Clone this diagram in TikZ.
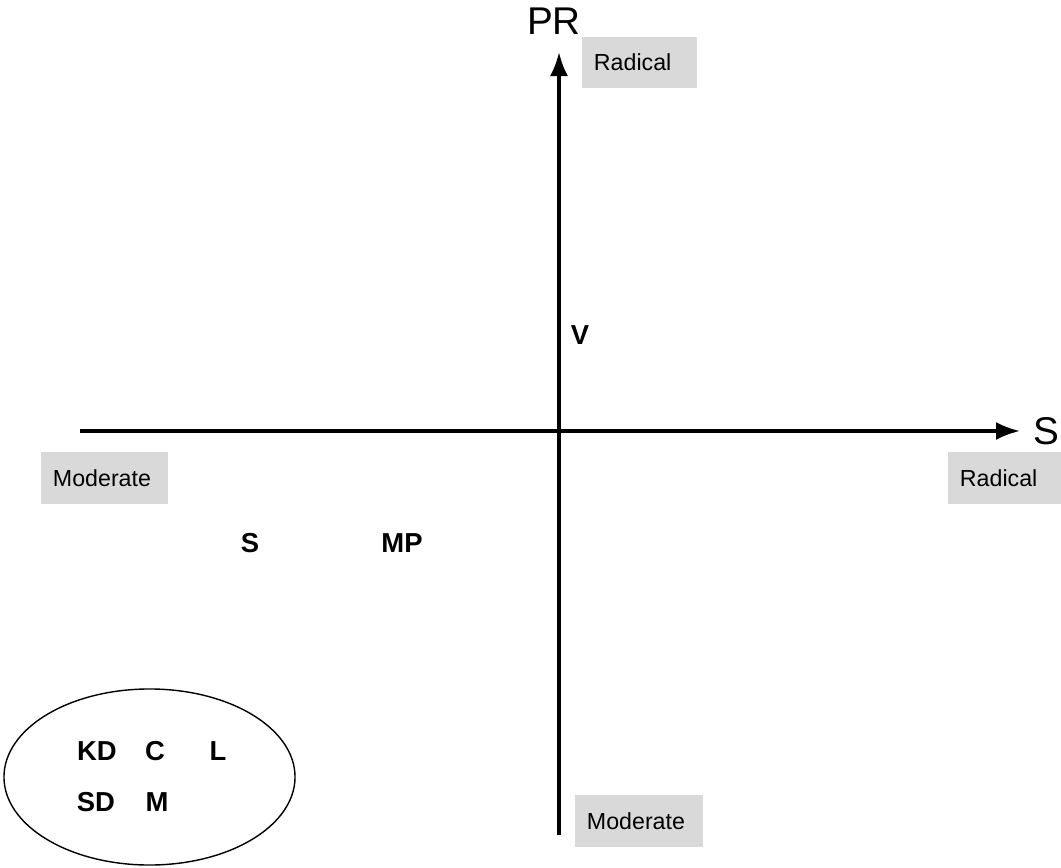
\documentclass[tikz,border=0pt]{standalone}
\usepackage{fontspec}
\setmainfont{Liberation Sans}
\usetikzlibrary{arrows.meta,shapes.geometric}
\definecolor{boxgray}{HTML}{D9D9D9}

\begin{document}
\begin{tikzpicture}
  [x=0.025cm,y=-0.025cm,
   gbox/.style={fill=boxgray,minimum height=1.275cm,inner ysep=0pt,
     inner xsep=0.3cm,align=left,font=\fontsize{16.5}{18}\selectfont},
   party/.style={inner sep=0pt,font=\fontsize{19.5}{22}\selectfont\bfseries},
   axname/.style={inner sep=0pt,font=\fontsize{27.5}{30}\selectfont},
   axis/.style={line width=2.4pt,-{Latex[length=0.6cm,width=0.45cm]}}]
  \useasboundingbox (0,0) rectangle (1061,868);

  % axes
  \coordinate (xl) at (80,431);
  \coordinate (xr) at (1020,431);
  \coordinate (yb) at (559,835);
  \coordinate (yt) at (559,52);
  \draw[axis] (xl) -- (xr);
  \draw[axis] (yb) -- (yt);

  \node[axname] (pr) at (554,21) {PR};
  \node[axname] (sx) at (1046,431) {S};

  % end labels
  \node[gbox,text width=2.275cm] (radtop) at (639.5,62.5) {Radical};
  \node[gbox,text width=2.575cm] (modleft) at (104.5,478) {Moderate};
  \node[gbox,text width=2.225cm] (radright) at (1004.5,478) {Radical};
  \node[gbox,text width=2.6cm] (modbot) at (639,821) {Moderate};

  % parties
  \node[party] (v)  at (580,335) {V};
  \node[party] (s)  at (250,543) {S};
  \node[party] (mp) at (402,543) {MP};

  \node[draw,ellipse,line width=1pt,minimum width=7.275cm,minimum height=4.4cm,
    inner sep=0pt] (grp) at (149.5,777) {};
  \node[party] (kd) at (97,751)  {KD};
  \node[party] (c)  at (155,751) {C};
  \node[party] (l)  at (218,751) {L};
  \node[party] (sd) at (96,802)  {SD};
  \node[party] (m)  at (157,802) {M};

\end{tikzpicture}
\end{document}
